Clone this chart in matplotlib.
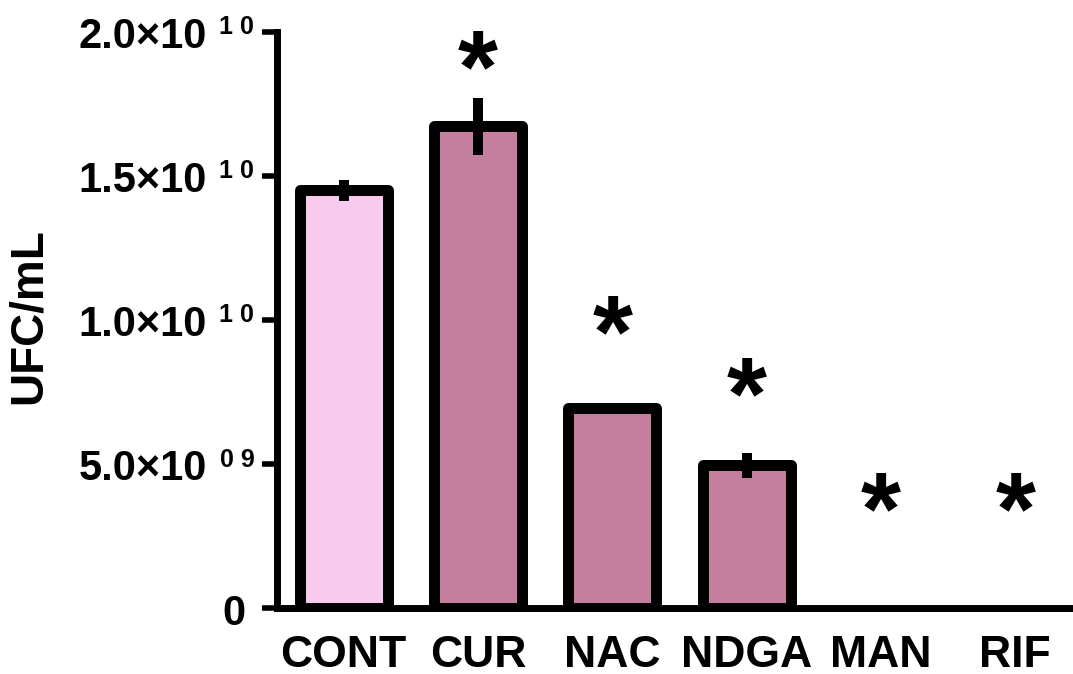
import numpy as np
import matplotlib.pyplot as plt

plt.rcParams['font.family'] = ['Liberation Sans', 'DejaVu Sans']
plt.rcParams['font.weight'] = 'bold'

groups = ["CONT", "CUR", "NAC", "NDGA", "MAN", "RIF"]
ufc = [1.449e10, 1.671e10, 0.694e10, 0.497e10, 0.0, 0.0]
err = [0.037e10, 0.10e10, 0.0, 0.043e10, 0.0, 0.0]
# heights at which the significance marks sit
sig_y = [None, 1.934e10, 1.016e10, 0.80e10, 0.402e10, 0.402e10]

yticks = [0, 5e9, 1e10, 1.5e10, 2e10]
ytick_base = ["0", "5.0×10", "1.0×10", "1.5×10", "2.0×10"]
ytick_exp = ["", "0 9", "1 0", "1 0", "1 0"]

colors = ["#F8CAEE"] + ["#C47E9E"] * 5

fig = plt.figure(figsize=(10.73, 6.74), dpi=100)
ax = fig.add_axes([0.2577, 0.0972, 0.7423, 0.856])

x = np.arange(len(groups))
# empty groups get no outline
edge_w = [7.9 if v > 0 else 0 for v in ufc]
ax.bar(x, ufc, width=0.655, color=colors, edgecolor="black",
       linewidth=edge_w, joinstyle="round", zorder=2)
ax.errorbar(x, ufc, yerr=err, fmt="none", ecolor="black",
            elinewidth=7.2, capsize=0, zorder=3)

for xi, sy in zip(x, sig_y):
    if sy is None:
        continue
    ax.annotate("*", (xi, sy), xytext=(0, -37), textcoords="offset points",
                ha="center", va="baseline", fontsize=74, fontweight="bold")

ax.set_xlim(-0.5, 5.43)
ax.set_ylim(0, 2e10)

ax.set_xticks(x)
ax.set_xticklabels(groups, fontsize=32, fontweight="bold")
ax.tick_params(axis="x", length=0, pad=19)

ax.set_yticks(yticks)
ax.set_yticklabels([])
ax.tick_params(axis="y", length=10.5, width=4, direction="out")

# y tick labels with spaced superscript exponents
for val, base, exp in zip(yticks, ytick_base, ytick_exp):
    if exp:
        ax.annotate(base, (0, val), xycoords=("axes fraction", "data"),
                    xytext=(-50, -3.7), textcoords="offset points",
                    ha="right", va="center", fontsize=30, fontweight="bold")
        ax.annotate(exp, (0, val), xycoords=("axes fraction", "data"),
                    xytext=(-16, 12), textcoords="offset points",
                    ha="right", va="top", fontsize=18, fontweight="bold")
    else:
        ax.annotate(base, (0, val), xycoords=("axes fraction", "data"),
                    xytext=(-22, -3.7), textcoords="offset points",
                    ha="right", va="center", fontsize=30, fontweight="bold")

for side in ["top", "right"]:
    ax.spines[side].set_visible(False)
for side in ["left", "bottom"]:
    ax.spines[side].set_linewidth(5)

fig.text(29 / 1073, 1 - 316 / 674, "UFC/mL", rotation=90, ha="center",
         va="center", fontsize=33, fontweight="bold")

fig.savefig("out.png", dpi=100)
